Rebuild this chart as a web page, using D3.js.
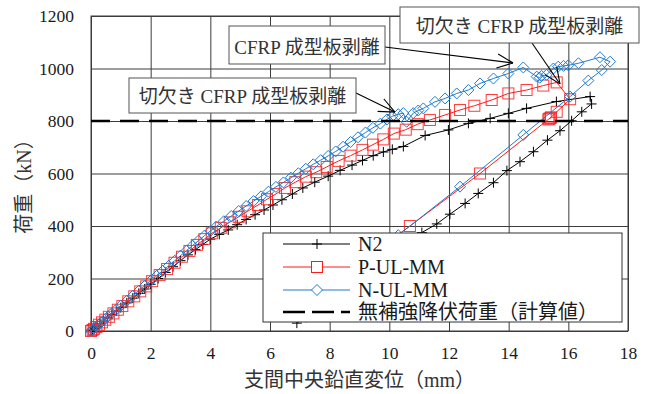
<!DOCTYPE html>
<html><head><meta charset="utf-8">
<script src="https://cdn.jsdelivr.net/npm/d3@7"></script>
<style>
html,body{margin:0;padding:0;background:#fff;}
svg{display:block;}
svg text{font-family:"Liberation Serif","Noto Sans CJK JP",serif;}
</style></head>
<body>
<svg id="chart" width="651" height="394"></svg>
<script>
// ---- data ----
const xTicks = [0,2,4,6,8,10,12,14,16,18];
const yTicks = [0,200,400,600,800,1000,1200];
const seriesNames = ["N2","P-UL-MM","N-UL-MM"];
const refLabel = "無補強降伏荷重（計算値）";
const refLoad = 800;
const xLabel = "支間中央鉛直変位（mm）";
const yLabel = "荷重（kN）";
const noteNotch = "切欠き CFRP 成型板剥離";
const notePlate = "CFRP 成型板剥離";

const n2 = [[0,0],[0.05,3],[0.12,10],[0.2,18],[0.3,27],[0.42,38],[0.55,50],[0.7,63],[0.85,76],[1.0,89],[1.2,107],[1.4,125],[1.6,143],[1.8,160],[2.0,178],[2.25,200],[2.5,223],[2.75,245],[3.0,268],[3.25,290],[3.5,310],[3.75,330],[4.0,350],[4.3,368],[4.6,385],[4.9,405],[5.2,425],[5.5,443],[5.8,461],[6.1,480],[6.4,500],[6.75,522],[7.1,545],[7.5,567],[7.95,590],[8.35,612],[8.75,632],[9.1,650],[9.46,668],[9.8,682],[10.1,692],[10.47,703],[11.2,745],[11.98,766],[12.65,791],[13.38,810],[13.99,829],[14.6,848],[15.6,874],[16.73,893],[16.78,865],[16.45,835],[16.11,801],[15.72,763],[15.3,727],[14.83,683],[14.38,645],[13.94,611],[13.49,565],[12.98,524],[12.54,486],[12.03,445],[11.59,408],[11.09,375],[10.6,335],[10.1,293],[9.6,250],[9.1,208],[8.6,167],[8.1,126],[7.6,85],[7.2,52],[6.9,30]];

const pul = [[0,0],[0.05,4],[0.1,8],[0.18,15],[0.27,24],[0.37,33],[0.48,43],[0.6,54],[0.75,67],[0.9,81],[1.05,95],[1.25,113],[1.45,132],[1.65,151],[1.85,170],[2.05,190],[2.3,213],[2.55,236],[2.8,260],[3.05,283],[3.3,305],[3.55,328],[3.8,350],[4.05,372],[4.35,393],[4.65,414],[4.95,435],[5.25,456],[5.6,480],[5.9,502],[6.2,522],[6.5,545],[6.85,567],[7.2,588],[7.55,605],[7.9,625],[8.3,648],[8.7,668],[9.1,690],[9.45,710],[9.8,730],[10.15,752],[10.55,767],[10.95,788],[11.36,804],[11.87,823],[12.37,842],[12.85,858],[13.43,880],[13.99,905],[14.6,918],[15.16,935],[15.61,947],[16.06,883],[15.61,835],[15.42,814],[15.36,809],[15.40,811],[15.33,806],[13.04,600],[10.69,400],[9.7,318],[8.7,235]];

const nul = [[0,0],[0.04,4],[0.1,9],[0.17,16],[0.25,24],[0.34,33],[0.45,43],[0.57,55],[0.7,68],[0.85,82],[1.0,97],[1.2,115],[1.4,134],[1.6,153],[1.8,172],[2.0,191],[2.2,210],[2.4,229],[2.6,248],[2.8,267],[3.0,287],[3.2,306],[3.4,325],[3.6,344],[3.8,363],[4.0,381],[4.2,398],[4.45,418],[4.7,438],[4.95,457],[5.2,476],[5.45,495],[5.7,513],[5.95,531],[6.2,549],[6.45,566],[6.7,584],[6.95,601],[7.2,618],[7.45,635],[7.7,651],[7.95,667],[8.2,684],[8.45,702],[8.7,720],[8.95,738],[9.2,756],[9.45,774],[9.7,790],[9.92,806],[10.1,818],[10.3,826],[10.47,830],[10.58,797],[10.8,830],[10.97,840],[11.14,848],[11.53,873],[11.87,886],[12.26,905],[12.65,918],[13.04,943],[13.49,962],[13.99,981],[14.49,1004],[14.94,969],[15.04,965],[15.1,972],[15.27,976],[15.5,1000],[15.66,1007],[15.84,1010],[16.0,1012],[16.34,1020],[17.06,1043],[17.4,1026],[17.12,994],[16.67,954],[16.06,893],[14.49,747],[12.37,550],[10.3,365],[9.3,275],[8.3,185]];

// annotation targets (data coords)
const arrowTips = [[10.19,834],[14.15,1021],[15.72,941]];

// ---- layout ----
const svg = d3.select("#chart");
const L = 91, R = 628, T = 16, B = 331;
const x = d3.scaleLinear().domain([0,18]).range([L,R]);
const y = d3.scaleLinear().domain([0,1200]).range([B,T]);
const gridColor = "#3c3c3c";

svg.append("rect").attr("width",651).attr("height",394).attr("fill","#fff");

// axes with gridlines
const gx = svg.append("g").attr("transform",`translate(0,${B})`)
  .call(d3.axisBottom(x).tickValues(xTicks).tickSize(-(B-T)).tickPadding(16).tickFormat(d3.format("d")));
const gy = svg.append("g").attr("transform",`translate(${L},0)`)
  .call(d3.axisLeft(y).tickValues(yTicks).tickSize(-(R-L)).tickPadding(17).tickFormat(d3.format("d")));
[gx,gy].forEach(g=>{
  g.attr("font-family",null).attr("font-size",null);
  g.select(".domain").remove();
  g.selectAll(".tick line").attr("stroke",gridColor).attr("stroke-width",1);
  g.selectAll(".tick text").style("font-size","17.5px").attr("fill","#1a1a1a");
});
svg.append("rect").attr("x",L).attr("y",T).attr("width",R-L).attr("height",B-T)
  .attr("fill","none").attr("stroke",gridColor).attr("stroke-width",1);

// series
const line = d3.line().x(d=>x(d[0])).y(d=>y(d[1]));
const plotG = svg.append("g");
const plusPath = "M-5,0H5M0,-5V5";
const diamondPath = "M0,-5.5L5.5,0L0,5.5L-5.5,0Z";
const redC = "#ff1a1a", blueC = "#1f7bd0";

// N2
plotG.append("path").datum(n2).attr("d",line).attr("fill","none").attr("stroke","#000").attr("stroke-width",1);
plotG.selectAll(".m1").data(n2).join("path").attr("d",plusPath)
  .attr("transform",d=>`translate(${x(d[0])},${y(d[1])})`).attr("stroke","#000").attr("stroke-width",1).attr("fill","none");
// P-UL-MM
plotG.append("path").datum(pul).attr("d",line).attr("fill","none").attr("stroke",redC).attr("stroke-width",1);
plotG.selectAll(".m2").data(pul).join("rect")
  .attr("x",d=>x(d[0])-5.5).attr("y",d=>y(d[1])-5.5).attr("width",11).attr("height",11)
  .attr("fill","none").attr("stroke",redC).attr("stroke-opacity",0.85).attr("stroke-width",1);
// N-UL-MM
plotG.append("path").datum(nul).attr("d",line).attr("fill","none").attr("stroke",blueC).attr("stroke-width",1);
plotG.selectAll(".m3").data(nul).join("path").attr("d",diamondPath)
  .attr("transform",d=>`translate(${x(d[0])},${y(d[1])})`).attr("fill","none").attr("stroke",blueC).attr("stroke-width",1);

// reference dashed line
svg.append("line").attr("x1",x(0)).attr("x2",x(18)).attr("y1",y(refLoad)).attr("y2",y(refLoad))
  .attr("stroke","#000").attr("stroke-width",2.6).attr("stroke-dasharray","19,10");

// annotations
const defs = svg.append("defs");
defs.append("marker").attr("id","arr").attr("markerUnits","userSpaceOnUse")
  .attr("viewBox","0 0 16 16").attr("markerWidth",16).attr("markerHeight",16)
  .attr("refX",16).attr("refY",8).attr("orient","auto")
  .append("path").attr("d","M0,1 L16,8 L0,15").attr("fill","none").attr("stroke","#000").attr("stroke-width",1.1);

const boxes = [
  {text:noteNotch, x0:129, y0:78, x1:356, y1:113, sx:356, sy:93},
  {text:notePlate, x0:229, y0:26, x1:385, y1:64, sx:385, sy:47},
  {text:noteNotch, x0:400, y0:7, x1:639, y1:43, sx:532, sy:43}
];
boxes.forEach((b,i)=>{
  const tip = arrowTips[i];
  svg.append("line").attr("x1",b.sx).attr("y1",b.sy).attr("x2",x(tip[0])).attr("y2",y(tip[1]))
    .attr("stroke","#000").attr("stroke-width",1.1).attr("marker-end","url(#arr)");
  svg.append("rect").attr("x",b.x0).attr("y",b.y0).attr("width",b.x1-b.x0).attr("height",b.y1-b.y0)
    .attr("fill","#fff").attr("stroke","#555").attr("stroke-width",1);
  svg.append("text").attr("x",(b.x0+b.x1)/2).attr("y",b.y1-10).attr("text-anchor","middle")
    .style("font-size","19px").attr("fill","#333").text(b.text);
});

// legend
const lg = svg.append("g");
lg.append("rect").attr("x",263).attr("y",233).attr("width",359).attr("height",89)
  .attr("fill","#fff").attr("stroke","#333").attr("stroke-width",1);
const rows = [244,267,290,312];
const lx0 = 283, lx1 = 350, lxm = 317;
lg.append("line").attr("x1",lx0).attr("x2",lx1).attr("y1",rows[0]).attr("y2",rows[0]).attr("stroke","#000");
lg.append("path").attr("d",plusPath).attr("transform",`translate(${lxm},${rows[0]})`).attr("stroke","#000");
lg.append("line").attr("x1",lx0).attr("x2",lx1).attr("y1",rows[1]).attr("y2",rows[1]).attr("stroke",redC);
lg.append("rect").attr("x",lxm-5.5).attr("y",rows[1]-5.5).attr("width",11).attr("height",11).attr("fill","#fff").attr("stroke",redC);
lg.append("line").attr("x1",lx0).attr("x2",lx1).attr("y1",rows[2]).attr("y2",rows[2]).attr("stroke",blueC);
lg.append("path").attr("d",diamondPath).attr("transform",`translate(${lxm},${rows[2]})`).attr("fill","#fff").attr("stroke",blueC);
lg.append("line").attr("x1",lx0).attr("x2",lx1).attr("y1",rows[3]).attr("y2",rows[3]).attr("stroke","#000")
  .attr("stroke-width",2.6).attr("stroke-dasharray","22,7");
const labels = seriesNames.concat([refLabel]);
labels.forEach((t,i)=>{
  lg.append("text").attr("x",358).attr("y",rows[i]+7).style("font-size","20px")
    .attr("fill","#1a1a1a").text(t);
});

// axis titles
svg.append("text").attr("x",(L+R)/2).attr("y",387).attr("text-anchor","middle")
  .style("font-size","20px").attr("fill","#333").text(xLabel);
svg.append("text").attr("transform",`translate(31,${(T+B)/2+8}) rotate(-90)`).attr("text-anchor","middle")
  .style("font-size","20px").attr("fill","#333").text(yLabel);
</script>
</body></html>
